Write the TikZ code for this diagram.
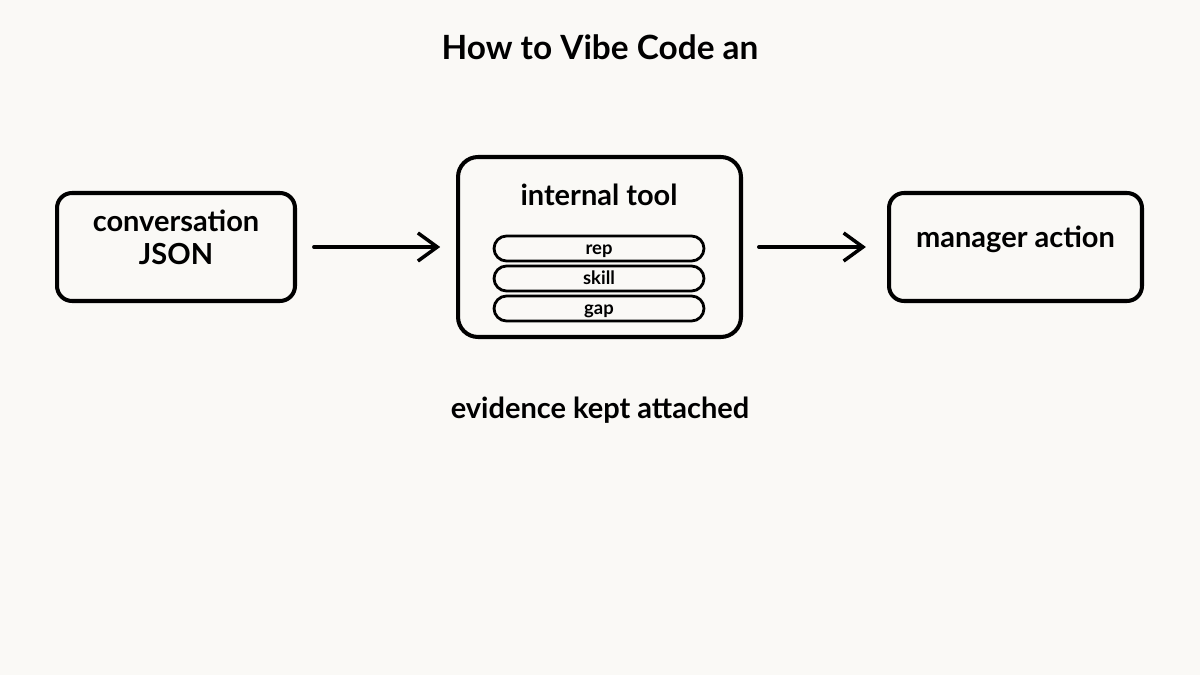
\documentclass[tikz,border=0pt]{standalone}
\usepackage{fontspec}
\setmainfont{Lato}
\usetikzlibrary{arrows.meta, positioning}

\begin{document}
\begin{tikzpicture}[
    x=0.02cm, y=-0.02cm, % one unit is one pixel of the 1200x675 frame
    >={Straight Barb[length=11pt, width=16pt, line width=2pt]}, % open hand-drawn tip
    box/.style={draw, line width=2.3pt, rounded corners=0.3cm}, % outer boxes
    pill/.style={draw, line width=1.6pt, rounded corners=0.25cm,
        minimum width=4.2cm, minimum height=0.5cm, inner sep=0pt,
        text height=9pt, text depth=1.6pt,
        font=\bfseries\fontsize{10.5}{12}\selectfont}, % small rows in the tool
    flow/.style={->, line width=2pt, line cap=round}, % connectors
    labelstyle/.style={align=center, font=\bfseries\fontsize{16.5}{19}\selectfont} % texts
]

    % page and margins
    \fill[fill={rgb,255:red,250;green,249;blue,246}] (0,0) rectangle (1200,675);
    \useasboundingbox (0,0) rectangle (1200,675);

    % title
    \node[font=\bfseries\fontsize{19}{23}\selectfont] (title) at (600,47) {How to Vibe Code an};

    % the three stages
    \node[box, minimum width=4.76cm, minimum height=2.16cm] (conv) at (176,247) {};
    \node[box, minimum width=5.66cm, minimum height=3.6cm, rounded corners=0.4cm] (tool) at (599.5,247) {};
    \node[box, minimum width=5.06cm, minimum height=2.16cm] (action) at (1015.5,247) {};

    % texts inside the boxes
    \node[labelstyle] (convname) at (176,237.5) {conversation\\JSON};
    \node[labelstyle] (toolname) at (599,195) {internal tool};
    \node[labelstyle] (actionname) at (1015.5,239) {manager action};
    \node[pill] (rep) at (599,248.5) {rep};
    \node[pill] (skill) at (599,278.5) {skill};
    \node[pill] (gap) at (599,308.5) {gap};

    % connectors
    \draw[flow, shorten <=9.6pt, shorten >=9pt] (conv.east) -- (tool.west);
    \draw[flow, shorten <=9pt, shorten >=12pt] (tool.east) -- (action.west);

    % caption
    \node[labelstyle] (note) at (600,410) {evidence kept attached};

\end{tikzpicture}
\end{document}
